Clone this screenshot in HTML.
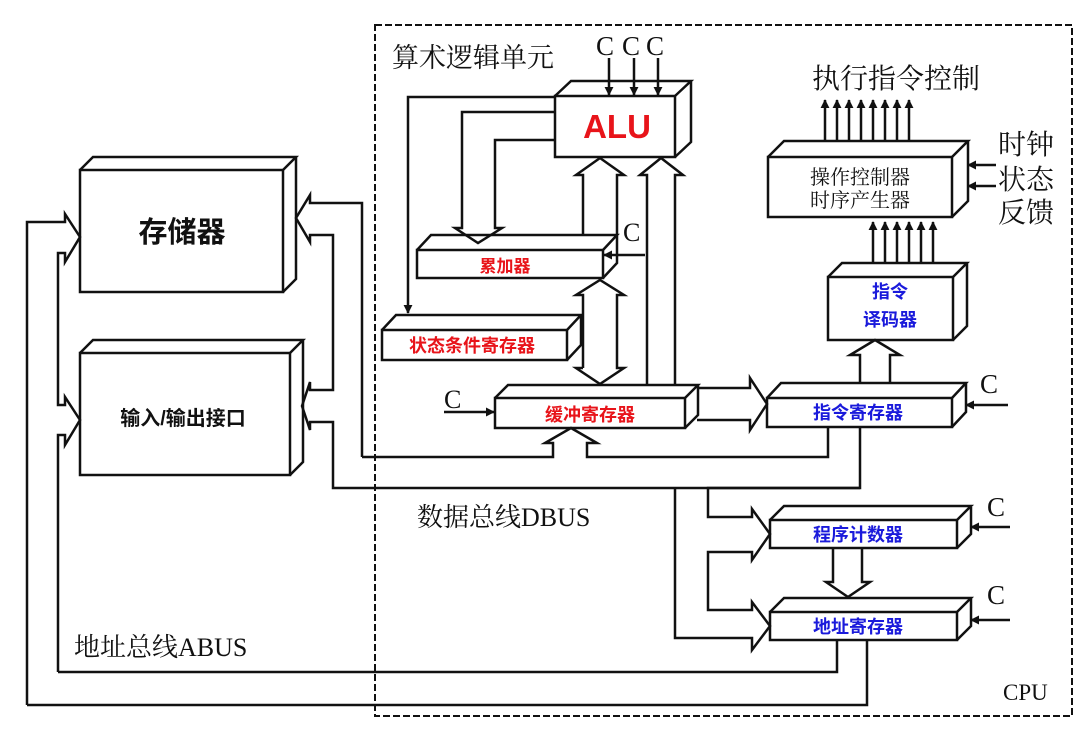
<!DOCTYPE html>
<html><head><meta charset="utf-8"><style>
html,body{margin:0;padding:0;background:#fff;}
svg{display:block;}
.s{font-family:"Liberation Serif","Noto Serif CJK SC",serif;fill:#111;}
.b{font-family:"Liberation Sans","Noto Sans CJK SC",sans-serif;font-weight:bold;}
</style></head><body>
<svg width="1090" height="742" viewBox="0 0 1090 742" xmlns="http://www.w3.org/2000/svg">
<defs>
<marker id="ah" viewBox="0 0 10 10" refX="9" refY="5" markerWidth="9" markerHeight="14" orient="auto" markerUnits="userSpaceOnUse"><path d="M0,0 L10,5 L0,10 z" fill="#111"/></marker>
</defs>
<g fill="none" stroke="#111" stroke-width="2.5" stroke-linejoin="miter">
<rect x="375" y="25" width="697" height="691" stroke-dasharray="7,3" stroke-width="2"/>

<rect x="80" y="170" width="203" height="122" fill="#fff"/>
<path d="M80,170 L93,157 L296,157 L283,170 M296,157 L296,279 L283,292" />
<rect x="80" y="353" width="210" height="122" fill="#fff"/>
<path d="M80,353 L93,340 L303,340 L290,353 M303,340 L303,462 L290,475"/>
<rect x="555" y="96" width="120" height="61" fill="#fff"/>
<path d="M555,96 L571,81 L691,81 L675,96 M691,81 L691,142 L675,157"/>
<rect x="417" y="250" width="186" height="28" fill="#fff"/>
<path d="M417,250 L431,235 L617,235 L603,250 M617,235 L617,263 L603,278"/>
<rect x="382" y="330" width="185" height="30" fill="#fff"/>
<path d="M382,330 L396,315 L581,315 L567,330 M581,315 L581,345 L567,360"/>
<rect x="495" y="398" width="190" height="30" fill="#fff"/>
<path d="M495,398 L508,385 L698,385 L685,398 M698,385 L698,415 L685,428"/>
<rect x="767" y="398" width="185" height="29" fill="#fff"/>
<path d="M767,398 L781,383 L966,383 L952,398 M966,383 L966,412 L952,427"/>
<rect x="828" y="277" width="125" height="63" fill="#fff"/>
<path d="M828,277 L842,263 L967,263 L953,277 M967,263 L967,326 L953,340"/>
<rect x="768" y="157" width="184" height="60" fill="#fff"/>
<path d="M768,157 L784,141 L968,141 L952,157 M968,141 L968,201 L952,217"/>
<rect x="770" y="520" width="187" height="28" fill="#fff"/>
<path d="M770,520 L784,506 L971,506 L957,520 M971,506 L971,534 L957,548"/>
<rect x="770" y="612" width="187" height="28" fill="#fff"/>
<path d="M770,612 L784,598 L971,598 L957,612 M971,598 L971,626 L957,640"/>

<path d="M27,705 L27,222 L65,222 L65,214 L80,237 L65,262 L65,253 L58,253 L58,405 L65,405 L65,397 L80,420 L65,445 L65,435 L58,435 L58,672"/>
<path d="M27,705 L867,705 L867,640"/>
<path d="M58,672 L837,672 L837,640"/>

<path d="M362,457 L362,203 L310,203 L310,195 L296,218 L310,242 L310,235 L333,235 L333,390 L310,390 L310,382 L302,406 L310,430 L310,422 L333,422 L333,488 L860,488 L860,427"/>
<path d="M362,457 L553,457 L553,443 L545,443 L571,428 L597,443 L587,443 L587,457 L828,457 L828,427"/>

<path d="M860,488 L708,488 L708,517 L752,517 L752,509 L770,534 L752,560 L752,552 L708,552 L708,610 L752,610 L752,602 L770,626 L752,650 L752,638 L675,638 L675,488"/>

<path d="M697,388 L750,388 L750,378 L767,404 L750,430 L750,420 L697,420"/>
<path d="M860,383 L860,355 L850,355 L875,340 L900,355 L890,355 L890,383"/>
<path d="M833,548 L833,582 L826,582 L848,597 L870,582 L862,582 L862,548"/>

<path d="M555,112 L462,112 L462,228 L455,228 L478,243 L502,228 L495,228 L495,140 L555,140"/>
<path d="M583,235 L583,175 L576,175 L600,158 L624,175 L617,175 L617,235"/>
<path d="M647,385 L647,175 L640,175 L661,158 L683,175 L675,175 L675,385"/>
<path d="M583,368 L583,295 L576,295 L600,280 L624,295 L617,295 L617,368 L624,368 L600,384 L576,368 L583,368"/>

<path d="M555,97 L408,97 L408,313" marker-end="url(#ah)"/>

<path d="M609,58 L609,95" marker-end="url(#ah)"/>
<path d="M634,58 L634,95" marker-end="url(#ah)"/>
<path d="M658,58 L658,95" marker-end="url(#ah)"/>
<path d="M645,255 L604,255" marker-end="url(#ah)"/>
<path d="M444,412 L494,412" marker-end="url(#ah)"/>
<path d="M1008,405 L966,405" marker-end="url(#ah)"/>
<path d="M1010,527 L971,527" marker-end="url(#ah)"/>
<path d="M1010,620 L971,620" marker-end="url(#ah)"/>
<path d="M996,165 L968,165" marker-end="url(#ah)"/>
<path d="M996,186 L968,186" marker-end="url(#ah)"/>

<path d="M873,263 L873,222" marker-end="url(#ah)"/>
<path d="M885,263 L885,222" marker-end="url(#ah)"/>
<path d="M897,263 L897,222" marker-end="url(#ah)"/>
<path d="M909,263 L909,222" marker-end="url(#ah)"/>
<path d="M921,263 L921,222" marker-end="url(#ah)"/>
<path d="M933,263 L933,222" marker-end="url(#ah)"/>
<path d="M825,141 L825,100" marker-end="url(#ah)"/>
<path d="M837,141 L837,100" marker-end="url(#ah)"/>
<path d="M849,141 L849,100" marker-end="url(#ah)"/>
<path d="M861,141 L861,100" marker-end="url(#ah)"/>
<path d="M873,141 L873,100" marker-end="url(#ah)"/>
<path d="M885,141 L885,100" marker-end="url(#ah)"/>
<path d="M897,141 L897,100" marker-end="url(#ah)"/>
<path d="M909,141 L909,100" marker-end="url(#ah)"/>
</g>

<text class="s" x="392" y="67" font-size="27">算术逻辑单元</text>
<text class="s" x="596" y="55" font-size="27">C</text>
<text class="s" x="622" y="55" font-size="27">C</text>
<text class="s" x="646" y="55" font-size="27">C</text>
<text class="b" x="617" y="138" font-size="33" fill="#e8141a" text-anchor="middle">ALU</text>
<text class="s" x="623" y="241" font-size="26">C</text>
<text class="b" x="505" y="272" font-size="17" fill="#e8141a" text-anchor="middle">累加器</text>
<text class="b" x="472" y="352" font-size="18" fill="#e8141a" text-anchor="middle">状态条件寄存器</text>
<text class="s" x="444" y="408" font-size="26">C</text>
<text class="b" x="590" y="421" font-size="18" fill="#e8141a" text-anchor="middle">缓冲寄存器</text>
<text class="b" x="182" y="242" font-size="29" fill="#111" text-anchor="middle">存储器</text>
<text class="b" x="183" y="425" font-size="20" fill="#111" text-anchor="middle">输入/输出接口</text>
<text class="s" x="812" y="88" font-size="28">执行指令控制</text>
<text class="s" x="860" y="184" font-size="20" text-anchor="middle">操作控制器</text>
<text class="s" x="860" y="207" font-size="20" text-anchor="middle">时序产生器</text>
<text class="s" x="998" y="154" font-size="28">时钟</text>
<text class="s" x="998" y="189" font-size="28">状态</text>
<text class="s" x="998" y="222" font-size="28">反馈</text>
<text class="b" x="890" y="298" font-size="18" fill="#1a1adb" text-anchor="middle">指令</text>
<text class="b" x="890" y="326" font-size="18" fill="#1a1adb" text-anchor="middle">译码器</text>
<text class="b" x="858" y="419" font-size="18" fill="#1a1adb" text-anchor="middle">指令寄存器</text>
<text class="s" x="980" y="393" font-size="27">C</text>
<text class="b" x="858" y="541" font-size="18" fill="#1a1adb" text-anchor="middle">程序计数器</text>
<text class="s" x="987" y="516" font-size="27">C</text>
<text class="b" x="858" y="633" font-size="18" fill="#1a1adb" text-anchor="middle">地址寄存器</text>
<text class="s" x="987" y="604" font-size="27">C</text>
<text class="s" x="417" y="526" font-size="26">数据总线DBUS</text>
<text class="s" x="74" y="656" font-size="26">地址总线ABUS</text>
<text class="s" x="1003" y="700" font-size="23">CPU</text>
</svg>
</body></html>
